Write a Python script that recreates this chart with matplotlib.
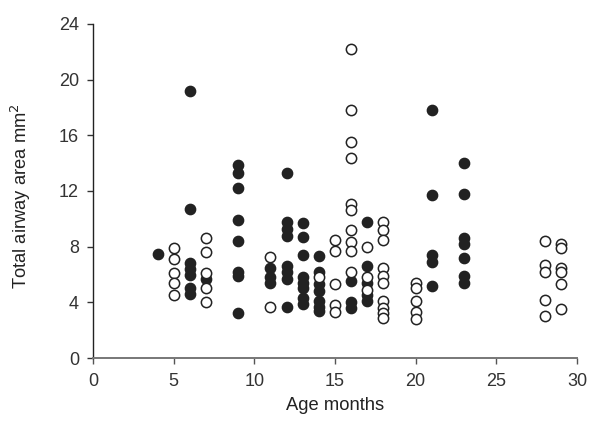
import matplotlib
matplotlib.use("Agg")
import matplotlib.pyplot as plt

plt.rcParams['font.family'] = ['Liberation Sans', 'DejaVu Sans']

# Filled circles (group A)
filled_x = [4,
            6, 6, 6, 6, 6, 6, 6,
            7,
            9, 9, 9, 9, 9, 9, 9, 9,
            11, 11, 11,
            12, 12, 12, 12, 12, 12, 12, 12,
            13, 13, 13, 13, 13, 13, 13, 13,
            14, 14, 14, 14, 14, 14, 14,
            16, 16, 16,
            17, 17, 17, 17, 17,
            21, 21, 21, 21, 21,
            23, 23, 23, 23, 23, 23, 23]
filled_y = [7.5,
            19.2, 10.7, 6.8, 6.4, 6.0, 5.0, 4.6,
            5.7,
            13.9, 13.3, 12.2, 9.9, 8.4, 6.2, 5.9, 3.2,
            6.5, 5.8, 5.4,
            13.3, 9.8, 9.3, 8.8, 6.6, 6.2, 5.7, 3.7,
            9.7, 8.7, 7.4, 5.8, 5.4, 5.0, 4.3, 3.9,
            7.3, 6.2, 5.3, 4.8, 4.1, 3.7, 3.4,
            5.5, 4.0, 3.6,
            9.8, 6.6, 5.4, 4.5, 4.1,
            17.8, 11.7, 7.4, 6.9, 5.2,
            14.0, 11.8, 8.6, 8.2, 7.2, 5.9, 5.4]

# Open circles (group B)
open_x = [5, 5, 5, 5, 5,
          7, 7, 7, 7, 7,
          11, 11,
          14,
          15, 15, 15, 15, 15,
          16, 16, 16, 16, 16, 16, 16, 16, 16, 16,
          17, 17, 17,
          18, 18, 18, 18, 18, 18, 18, 18, 18, 18,
          20, 20, 20, 20, 20,
          28, 28, 28, 28, 28,
          29, 29, 29, 29, 29, 29]
open_y = [7.9, 7.1, 6.1, 5.4, 4.5,
          8.6, 7.6, 6.1, 5.0, 4.0,
          7.25, 3.65,
          5.8,
          8.5, 7.7, 5.3, 3.8, 3.3,
          22.2, 17.8, 15.5, 14.4, 11.1, 10.6, 9.2, 8.3, 7.7, 6.2,
          8.0, 5.8, 4.9,
          9.8, 9.2, 8.5, 6.5, 5.9, 5.4, 4.1, 3.6, 3.2, 2.9,
          5.4, 5.0, 4.1, 3.3, 2.8,
          8.4, 6.7, 6.2, 4.2, 3.0,
          8.2, 7.9, 6.5, 6.2, 5.3, 3.5]

x_ticks = [0, 5, 10, 15, 20, 25, 30]
y_ticks = [0, 4, 8, 12, 16, 20, 24]

fig = plt.figure(figsize=(6, 4.25), dpi=100)
ax = fig.add_axes([0.155, 0.1576, 0.8067, 0.786])

ax.scatter(filled_x, filled_y, s=55, facecolor='#222222', edgecolor='#222222',
           linewidths=1.0, zorder=3)
ax.scatter(open_x, open_y, s=55, facecolor='white', edgecolor='#222222',
           linewidths=1.1, zorder=3)

ax.set_xlim(0, 30)
ax.set_ylim(0, 24)
ax.set_xticks(x_ticks)
ax.set_yticks(y_ticks)
ax.spines['top'].set_visible(False)
ax.spines['right'].set_visible(False)
ax.spines['left'].set_color('#222222')
ax.spines['bottom'].set_color('#777777')
ax.spines['left'].set_linewidth(1.0)
ax.spines['bottom'].set_linewidth(1.4)
ax.tick_params(axis='both', direction='out', length=4.5, width=1.0,
               colors='#333333', labelsize=13)
ax.tick_params(axis='x', color='#555555', pad=6)
ax.tick_params(axis='y', pad=5.5)

ax.set_xlabel('Age months', fontsize=13.2, color='#222222', labelpad=5)
ax.set_ylabel('Total airway area mm$^2$', fontsize=13.2, color='#222222')
ax.yaxis.set_label_coords(-0.124, 0.485)

fig.savefig('out.png', dpi=100, facecolor='white')
